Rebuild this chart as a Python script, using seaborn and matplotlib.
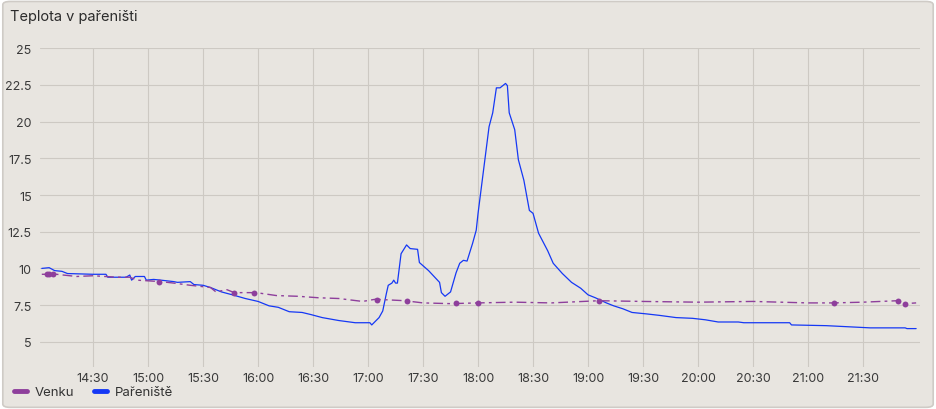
import pandas as pd
import matplotlib.pyplot as plt
import matplotlib.dates as mdates
from matplotlib.patches import FancyBboxPatch
from matplotlib.lines import Line2D
import seaborn as sns

#%% Data

DAY = "2024-04-20 "

# Pařeniště (hotbed) temperature
par_times = ["14:02", "14:06", "14:09", "14:13", "14:16", "14:30", "14:37", "14:38",
             "14:48", "14:50", "14:51", "14:53", "14:58", "14:59", "15:03", "15:07",
             "15:14", "15:16", "15:23", "15:25", "15:30", "15:34", "15:40", "15:46",
             "15:53", "16:00", "16:06", "16:11", "16:17", "16:24", "16:29", "16:35",
             "16:44", "16:53", "17:01", "17:02", "17:06", "17:08", "17:10", "17:11",
             "17:13", "17:14", "17:15", "17:16", "17:18", "17:21", "17:23", "17:27",
             "17:28", "17:33", "17:39", "17:40", "17:42", "17:45", "17:48", "17:50",
             "17:52", "17:54", "17:57", "17:59", "18:00", "18:03", "18:06", "18:08",
             "18:10", "18:12", "18:15", "18:16", "18:17", "18:20", "18:22", "18:25",
             "18:28", "18:30", "18:33", "18:38", "18:41", "18:46", "18:51", "18:56",
             "19:00", "19:04", "19:10", "19:14", "19:19", "19:24", "19:32", "19:39",
             "19:48", "19:57", "20:04", "20:11", "20:22", "20:25", "20:50", "20:51",
             "21:10", "21:34", "21:53", "21:54", "21:59"]
par_temp = [10.0, 10.05, 9.85, 9.8, 9.65, 9.6, 9.6, 9.4,
            9.4, 9.55, 9.2, 9.45, 9.45, 9.2, 9.25, 9.2,
            9.1, 9.05, 9.1, 8.9, 8.85, 8.7, 8.4, 8.2,
            7.95, 7.75, 7.45, 7.35, 7.05, 7.0, 6.85, 6.65,
            6.45, 6.3, 6.3, 6.15, 6.65, 7.1, 8.3, 8.85,
            9.0, 9.2, 9.0, 9.0, 11.0, 11.6, 11.35, 11.3,
            10.4, 9.85, 9.05, 8.35, 8.1, 8.4, 9.7, 10.35,
            10.55, 10.5, 11.7, 12.6, 13.75, 16.7, 19.65, 20.6,
            22.3, 22.3, 22.6, 22.45, 20.6, 19.45, 17.4, 16.0,
            13.95, 13.75, 12.4, 11.2, 10.35, 9.65, 9.05, 8.65,
            8.2, 8.0, 7.65, 7.45, 7.25, 7.0, 6.9, 6.8,
            6.65, 6.6, 6.5, 6.35, 6.35, 6.3, 6.3, 6.15,
            6.1, 5.95, 5.95, 5.9, 5.9]

# Venku (outside) temperature
ven_times = ["14:02", "14:10", "14:21", "14:30", "14:43", "14:50", "14:54", "15:07",
             "15:14", "15:23", "15:34", "15:37", "15:43", "15:47", "15:59", "16:10",
             "16:22", "16:33", "16:44", "16:57", "17:04", "17:20", "17:30", "17:45",
             "18:00", "18:20", "18:40", "19:06", "19:30", "20:00", "20:30", "21:00",
             "21:14", "21:30", "21:49", "21:53", "21:59"]
ven_temp = [9.6, 9.6, 9.45, 9.5, 9.4, 9.4, 9.2, 9.1,
            9.0, 8.85, 8.7, 8.4, 8.55, 8.35, 8.35, 8.15,
            8.1, 8.0, 7.95, 7.75, 7.9, 7.8, 7.65, 7.6,
            7.65, 7.7, 7.65, 7.8, 7.75, 7.7, 7.75, 7.65,
            7.65, 7.7, 7.8, 7.6, 7.65]

# isolated readings drawn as dots
dot_times = ["14:05", "14:06", "14:08", "15:06", "15:47", "15:58", "17:05", "17:21",
             "17:48", "18:00", "19:06", "21:14", "21:49", "21:53"]
dot_temp = [9.6, 9.6, 9.6, 9.1, 8.35, 8.35, 7.85, 7.8,
            7.65, 7.65, 7.8, 7.65, 7.8, 7.6]

ytick_vals = [5, 7.5, 10, 12.5, 15, 17.5, 20, 22.5, 25]

#%% Build frames

par = pd.DataFrame({"time": pd.to_datetime([DAY + t for t in par_times]), "temp": par_temp})
ven = pd.DataFrame({"time": pd.to_datetime([DAY + t for t in ven_times]), "temp": ven_temp})
dots = pd.DataFrame({"time": pd.to_datetime([DAY + t for t in dot_times]), "temp": dot_temp})

#%% Plot

BG = "#e8e5e0"
PURPLE = "#8e3f9c"
BLUE = "#1538f5"

sns.set_style("white")
plt.rcParams["font.family"] = ["Inter", "DejaVu Sans"]

fig = plt.figure(figsize=(9.36, 4.10), dpi=100, facecolor="white")
fig.patches.append(FancyBboxPatch((0.003, 0.004), 0.994, 0.99, boxstyle="round,pad=0,rounding_size=0.008",
                                  transform=fig.transFigure, facecolor=BG, edgecolor="#cfcbc6",
                                  linewidth=1.2, zorder=-1))
ax = fig.add_axes([0.0427, 0.103, 0.940, 0.777])
ax.set_facecolor(BG)

sns.lineplot(data=par, x="time", y="temp", color=BLUE, linewidth=0.9, ax=ax)
sns.lineplot(data=ven, x="time", y="temp", color=PURPLE, linewidth=1.0, ax=ax)
ax.lines[-1].set_linestyle((0, (7, 3, 2, 3)))
sns.scatterplot(data=dots, x="time", y="temp", color=PURPLE, s=18, linewidth=0, ax=ax, zorder=3)

ax.set_xlim(pd.Timestamp(DAY + "14:01"), pd.Timestamp(DAY + "22:01"))
ax.set_ylim(3.3, 25)
ticks = list(pd.date_range(DAY + "14:30", DAY + "21:30", freq="30min"))
ax.set_xticks(ticks)
ax.xaxis.set_major_formatter(mdates.DateFormatter("%H:%M"))
ax.set_yticks(ytick_vals)
ax.set_yticklabels([f"{v:g}" for v in ytick_vals])
ax.tick_params(axis="both", length=0, labelsize=9, colors="#3a3a3a")
ax.tick_params(axis="x", pad=4)
ax.tick_params(axis="y", pad=6)
ax.grid(True, color="#cdc9c3", linewidth=0.8)
for s in ax.spines.values():
    s.set_visible(False)
ax.set_xlabel("")
ax.set_ylabel("")

fig.text(0.011, 0.958, "Teplota v pařeništi", fontsize=10.5, color="#2b2b2b", va="center", ha="left")

# legend at the bottom left
handles = [Line2D([0], [0], color=PURPLE, linewidth=3.5, solid_capstyle="round"),
           Line2D([0], [0], color=BLUE, linewidth=3.5, solid_capstyle="round")]
fig.legend(handles, ["Venku", "Pařeniště"], loc="center left", bbox_to_anchor=(0.002, 0.041),
           ncol=2, frameon=False, fontsize=9.5, handlelength=1.0, handletextpad=0.6,
           columnspacing=1.5, labelcolor="#333333")

fig.savefig("out.png", dpi=100, facecolor="white")
